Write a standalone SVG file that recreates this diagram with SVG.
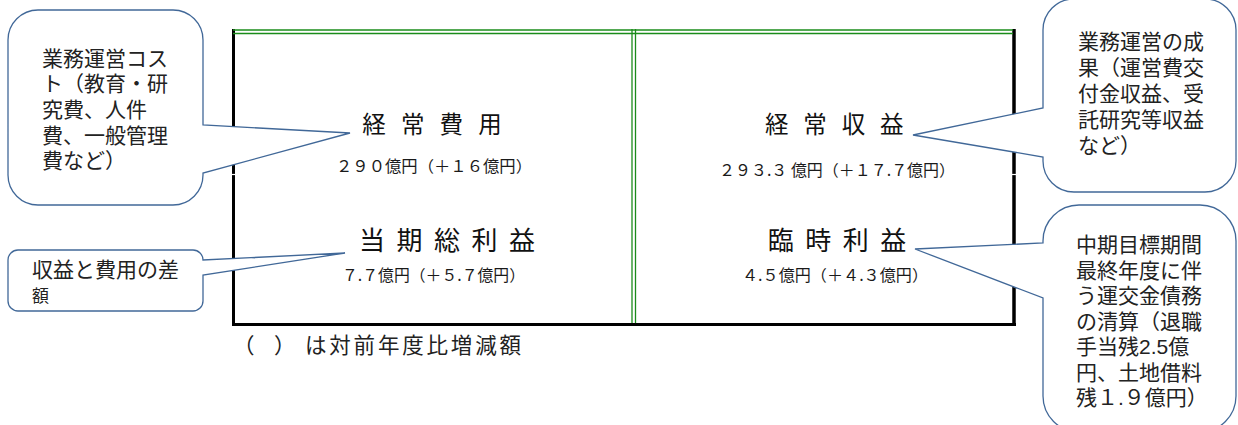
<svg xmlns="http://www.w3.org/2000/svg" width="1238" height="425" viewBox="0 0 1238 425">
<style>
.g{stroke:#1a8c1a;stroke-width:1.3;fill:none}
.k{stroke:#000;fill:none}
.lbl{font-family:"Noto Sans CJK JP","Noto Sans",sans-serif;fill:#111;text-anchor:middle}
.l1{font-size:23.5px}
.l2{font-size:26px}
.sub{font-family:"Noto Sans CJK JP","Noto Sans",sans-serif;font-size:15.5px;fill:#1a1a1a}
.co{fill:#fff;stroke:#416898;stroke-width:1.3;stroke-linejoin:miter}
.ct{font-family:"Liberation Sans","Noto Sans CJK JP",sans-serif;font-size:21px;fill:#222}
.note{font-family:"Liberation Sans","Noto Sans CJK JP",sans-serif;font-size:21.5px;fill:#222}
</style>
<rect width="1238" height="425" fill="#fff"/>
<g id="frame">
  <line class="k" x1="233.5" y1="29" x2="233.5" y2="326" stroke-width="3"/>
  <line class="k" x1="1014" y1="29" x2="1014" y2="326" stroke-width="3.5"/>
  <line class="k" x1="232" y1="324.5" x2="1016" y2="324.5" stroke-width="3"/>
  <line class="g" x1="233" y1="30" x2="1013" y2="30"/>
  <line class="g" x1="233" y1="33.5" x2="1013" y2="33.5"/>
  <line class="g" x1="632" y1="29" x2="632" y2="323"/>
  <line class="g" x1="635.5" y1="29" x2="635.5" y2="323"/>
  <line stroke="#fff" stroke-width="1.2" x1="231" y1="174.5" x2="237" y2="174.5"/>
  <line stroke="#fff" stroke-width="1.2" x1="1011" y1="174.5" x2="1020" y2="174.5"/>
</g>
<g id="node-keijo-hiyo">
  <text class="lbl l1" x="374 412.7 451.3 490" y="133">経常費用</text>
  <text class="sub" x="336" y="172" textLength="196" lengthAdjust="spacingAndGlyphs">２９０億円（＋１６億円）</text>
</g>
<g id="node-keijo-shueki">
  <text class="lbl l1" x="776.7 815 853.4 891.7" y="133">経常収益</text>
  <text class="sub" x="719" y="176" textLength="236" lengthAdjust="spacingAndGlyphs">２９３.３ 億円（＋１７.７億円）</text>
</g>
<g id="node-toki-sorieki">
  <text class="lbl l2" x="372 409.5 447 484.5 522" y="250">当期総利益</text>
  <text class="sub" x="342" y="281" textLength="183" lengthAdjust="spacingAndGlyphs">７.７億円（＋５.７億円）</text>
</g>
<g id="node-rinji-rieki">
  <text class="lbl l2" x="780.7 818.2 855.8 893.3" y="250">臨時利益</text>
  <text class="sub" x="742" y="281" textLength="186" lengthAdjust="spacingAndGlyphs">４.５億円（＋４.３億円）</text>
</g>
<g id="note">
  <text class="note" y="353"><tspan x="233">（</tspan><tspan x="274">）</tspan><tspan x="305" textLength="216" lengthAdjust="spacing">は対前年度比増減額</tspan></text>
</g>
<g id="connectors">
  <g id="callout-cost">
    <path class="co" d="M38,10 H173 A30,30 0 0 1 203,40 V125 L350,133 L203,173 V175 A30,30 0 0 1 173,205 H38 A30,30 0 0 1 8,175 V40 A30,30 0 0 1 38,10 Z"/>
    <text class="ct" x="42"><tspan x="42" y="65.5">業務運営コス</tspan><tspan x="42" y="91">ト（教育・研</tspan><tspan x="42" y="117">究費、人件</tspan><tspan x="42" y="143">費、一般管理</tspan><tspan x="42" y="168">費など）</tspan></text>
  </g>
  <g id="callout-diff">
    <path class="co" d="M18,250 H193 A10,10 0 0 1 203,260 L345,253 L203,275 V301 A10,10 0 0 1 193,311 H18 A10,10 0 0 1 8,301 V260 A10,10 0 0 1 18,250 Z"/>
    <text class="ct" x="32" y="277">収益と費用の差</text>
    <text class="ct" x="32" y="302" style="font-size:17px">額</text>
  </g>
  <g id="callout-revenue">
    <path class="co" d="M1074,-1 H1205 A31,31 0 0 1 1236,30 V161 A31,31 0 0 1 1205,192 H1074 A31,31 0 0 1 1043,161 V157 L913,135 L1043,108 V30 A31,31 0 0 1 1074,-1 Z"/>
    <text class="ct"><tspan x="1078" y="48.5">業務運営の成</tspan><tspan x="1078" y="74.5">果（運営費交</tspan><tspan x="1078" y="100.5">付金収益、受</tspan><tspan x="1078" y="127">託研究等収益</tspan><tspan x="1078" y="153">など）</tspan></text>
  </g>
  <g id="callout-extraordinary">
    <path class="co" d="M1079,205 H1200 A36,36 0 0 1 1236,241 V396 A36,36 0 0 1 1200,432 H1079 A36,36 0 0 1 1043,396 V298 L915,249 L1043,243 V241 A36,36 0 0 1 1079,205 Z"/>
    <text class="ct"><tspan x="1076" y="252">中期目標期間</tspan><tspan x="1076" y="277.5">最終年度に伴</tspan><tspan x="1076" y="303">う運交金債務</tspan><tspan x="1076" y="329">の清算（退職</tspan><tspan x="1076" y="354">手当残2.5億</tspan><tspan x="1076" y="380">円、土地借料</tspan><tspan x="1076" y="405">残１.９億円）</tspan></text>
  </g>
</g>
</svg>
